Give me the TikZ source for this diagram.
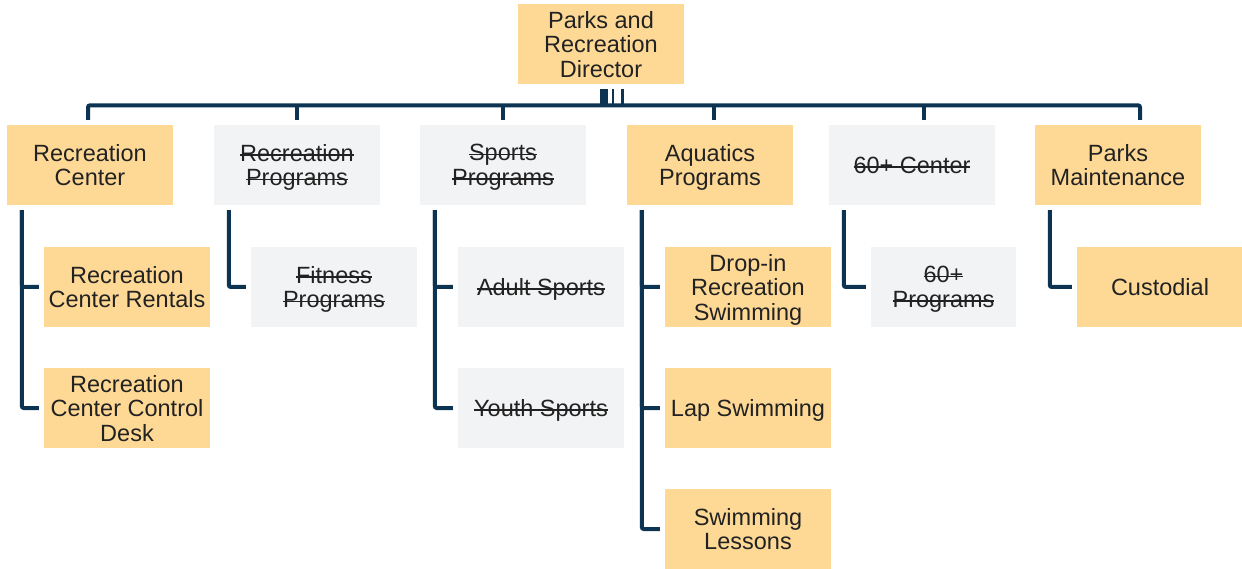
\documentclass[tikz,border=0pt]{standalone}
\usepackage{fontspec}
\setmainfont{Liberation Sans}
\usetikzlibrary{positioning}
\definecolor{unitfill}{RGB}{254,217,150}
\definecolor{cutfill}{RGB}{242,243,245}
\definecolor{linknavy}{RGB}{12,52,82}
\definecolor{textgray}{RGB}{34,34,34}
\newsavebox{\cutbox}
\newcommand{\cut}[1]{\sbox{\cutbox}{#1}\rlap{\usebox{\cutbox}}\rule[0.45ex]{\wd\cutbox}{1.5pt}}

\begin{document}
\begin{tikzpicture}[x=1pt, y=-1pt,
  unit/.style={fill=unitfill, minimum width=166pt, minimum height=80pt, inner sep=0pt,
    align=center, text depth=0pt, text=textgray, font=\fontsize{23.5}{24.5}\selectfont},
  gone/.style={unit, fill=cutfill},
  link/.style={draw=linknavy, line width=4pt, rounded corners=2pt}]
\useasboundingbox (0,0) rectangle (1242,569);

% director
\node[unit] (dir) at (601,44) {Parks and\\Recreation\\Director};

% divisions
\node[unit] (rc) at (90,165) {Recreation\\Center};
\node[gone] (rp) at (297,165) {\cut{Recreation}\\\cut{Programs}};
\node[gone] (sp) at (503,165) {\cut{Sports}\\\cut{Programs}};
\node[unit] (aq) at (710,165) {Aquatics\\Programs};
\node[gone] (sc) at (912,165) {\cut{60+ Center}};
\node[unit] (pm) at (1118,165) {Parks\\Maintenance};

% units
\node[unit] (rcr) at (127,287) {Recreation\\Center Rentals};
\node[unit] (rcd) at (127,408) {Recreation\\Center Control\\Desk};
\node[gone] (fit) at (334,287) {\cut{Fitness}\\\cut{Programs}};
\node[gone] (adult) at (541,287) {\cut{Adult Sports}};
\node[gone] (youth) at (541,408) {\cut{Youth Sports}};
\node[unit] (drop) at (748,287) {Drop-in\\Recreation\\Swimming};
\node[unit] (lap) at (748,408) {Lap Swimming};
\node[unit] (les) at (748,529) {Swimming\\Lessons};
\node[gone, minimum width=145pt] (scp) at (943.5,287) {\cut{60+}\\\cut{Programs}};
\node[unit] (cus) at (1160,287) {Custodial};

% director to bus
\draw[linknavy, line width=8pt] ([xshift=3pt,yshift=-5pt]dir.south) -- ++(0,16);
\draw[linknavy, line width=2.5pt] ([xshift=12pt,yshift=-5pt]dir.south) -- ++(0,16);
\draw[linknavy, line width=3pt] ([xshift=21.5pt,yshift=-5pt]dir.south) -- ++(0,16);

% bus
\draw[link] ([xshift=-2pt,yshift=5pt]rc.north) |- (601,105.3) -| ([xshift=22pt,yshift=5pt]pm.north);
\foreach \d/\dx in {rp/0, sp/0, aq/4, sc/12}
  \draw[link] ([xshift=\dx pt,yshift=5pt]\d.north) -- ++(0,-15);

% division to unit
\foreach \p/\c in {rc/rcr, rc/rcd, rp/fit, sp/adult, sp/youth, aq/drop, aq/lap, aq/les, sc/scp, pm/cus}
  \draw[link] ([xshift=15pt,yshift=-5pt]\p.south west) |- ([xshift=-5pt]\c.west);
\end{tikzpicture}
\end{document}
